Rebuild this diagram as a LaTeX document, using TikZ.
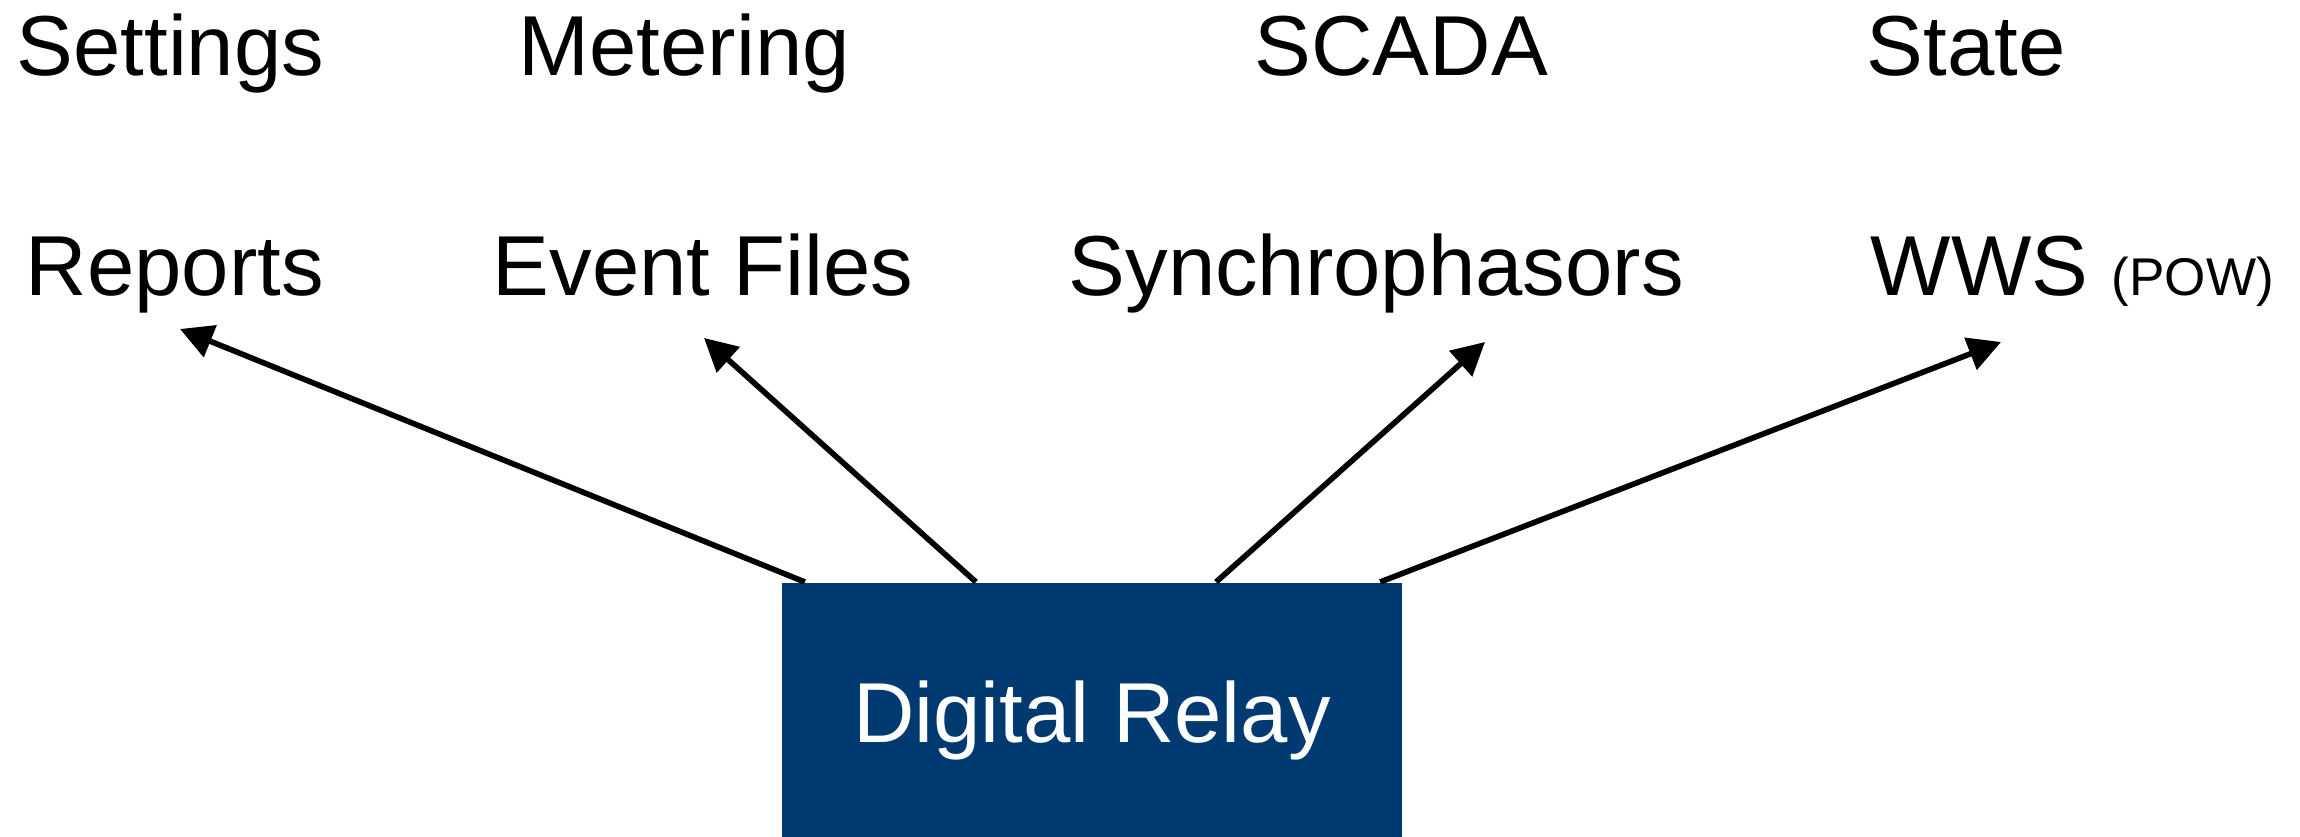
\documentclass[tikz,border=0pt]{standalone}
\usepackage{fontspec}
\setmainfont{Liberation Sans}
\usetikzlibrary{positioning,arrows.meta}
\definecolor{relayblue}{RGB}{0,58,112}
\tikzstyle{datatext}=[inner sep=0pt, anchor=base west, font=\fontsize{24.2pt}{28pt}\selectfont]
\tikzstyle{relay}=[rectangle, fill=relayblue, text=white, anchor=north,
        minimum width=6.2cm, minimum height=2.55cm, text height=0.65cm, text depth=0pt,
        font=\fontsize{24.2pt}{28pt}\selectfont]
\tikzstyle{link}=[line width=1.6pt, -{Triangle[length=9.3pt,width=9.5pt]}]

\begin{document}
\begin{tikzpicture}[x=0.01cm, y=-0.01cm]
        \useasboundingbox (0,0) rectangle (2300,837);
        \node (Settings) [datatext] at (16,76) {Settings};
        \node (Metering) [datatext] at (518,76) {Metering};
        \node (SCADA) [datatext] at (1254,76) {SCADA};
        \node (State) [datatext] at (1866,76) {State};
        \node (Reports) [datatext] at (25,296) {Reports};
        \node (EventFiles) [datatext] at (492,296) {Event Files};
        \node (Synchrophasors) [datatext] at (1068,296) {Synchrophasors};
        \node (WWS) [datatext] at (1870,296) {WWS {\fontsize{15.1pt}{18pt}\selectfont (POW)}};
        \node (Relay) [relay] at (1092,582) {Digital Relay};
        \coordinate (ReportsIn) at (180,329);
        \coordinate (EventFilesIn) at (704,338);
        \coordinate (SynchrophasorsIn) at (1485,342);
        \coordinate (WWSIn) at (2001,342);
        \draw[link] ([xshift=-2.87cm]Relay.north) -- (ReportsIn);
        \draw[link] ([xshift=-1.16cm]Relay.north) -- (EventFilesIn);
        \draw[link] ([xshift=1.24cm]Relay.north) -- (SynchrophasorsIn);
        \draw[link] ([xshift=2.88cm]Relay.north) -- (WWSIn);
      \end{tikzpicture}
\end{document}
